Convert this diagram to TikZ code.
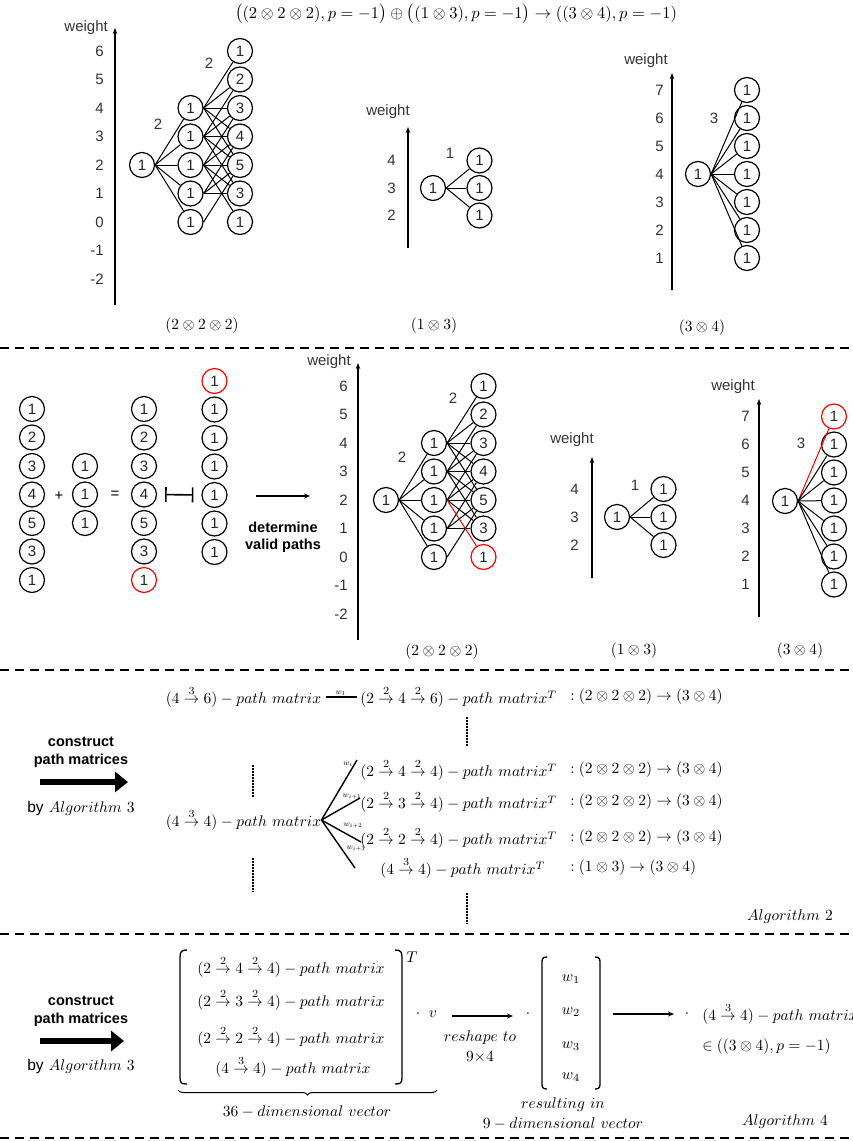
\documentclass[tikz,border=0pt]{standalone}
\usepackage{amsmath}
\usepackage{fontspec}
\newfontfamily\lsans{Liberation Sans}
\usetikzlibrary{arrows.meta,decorations.pathreplacing}
\newcommand\nfont{\lsans\fontsize{15}{18}\selectfont}
\newcommand\bfont{\lsans\bfseries\fontsize{14.5}{18}\selectfont}
\newcommand\parr[1]{\mathrel{\overset{#1}{\rightarrow}}}
\newcommand\pmx{-path\ matrix}
\tikzset{
 nd/.style={circle,draw,line width=1.2pt,minimum size=25pt,inner sep=0pt,font=\nfont,text=black!85,fill=white},
 rnd/.style={nd,draw=red},
 ed/.style={line width=1pt},
 red ed/.style={ed,draw=red},
 axisline/.style={line width=1.3pt,-{Stealth[length=6pt,width=4.5pt]}},
 ticklab/.style={anchor=east,font=\nfont,text=black!80,inner sep=0pt},
 wlab/.style={font=\nfont,text=black!80,inner sep=0pt},
 mt/.style={inner sep=0pt,scale=1.55},
 wsm/.style={inner sep=0pt,font=\footnotesize},
 sep/.style={line width=1.5pt,dash pattern=on 9pt off 6pt},
 vdotline/.style={line width=2pt,dash pattern=on 1.5pt off 1.5pt},
 bigarrow/.style={line width=6pt,-{Triangle[length=13pt,width=20pt]}},
 thinarrow/.style={line width=1.2pt,-{Stealth[length=6pt,width=5pt]}},
 fan/.style={line width=1.4pt},
 btxt/.style={font=\bfont,inner sep=0pt},
 bkt/.style={line width=1.3pt}
}
\begin{document}
\begin{tikzpicture}[x=1pt,y=-1pt]
\useasboundingbox (0,0) rectangle (852,1141);

% ---------- title
\node[inner sep=0pt,scale=1.65] (title) at (456,14)
 {$\big((2\otimes2\otimes2),p=-1\big)\oplus\big((1\otimes3),p=-1\big)\rightarrow((3\otimes4),p=-1)$};

% ---------- separators
\draw[sep] (0,348) -- (852,348);
\draw[sep] (0,670) -- (852,670);
\draw[sep] (0,934) -- (852,934);
\draw[sep] (0,1138) -- (852,1138);

% ========== SECTION 1
% graph A
\draw[axisline] (115,305) -- (115,28);
\node[wlab,anchor=east] (Aw) at (108,28) {weight};
\foreach \w in {6,5,...,-2} \node[ticklab] at (104,{165-28.5*(\w-2)}) {\w};
\node[nd] (A0) at (142,165) {1};
\foreach \w in {4,...,0} \node[nd] (Am\w) at (190.5,{165-28.5*(\w-2)}) {1};
\foreach \w/\l in {6/1,5/2,4/3,3/4,2/5,1/3,0/1} \node[nd] (Ar\w) at (240,{165-28.5*(\w-2)}) {\l};
\foreach \w in {4,...,0} \draw[ed] (A0.east) -- (Am\w);
\foreach \m/\r in {4/6,4/5,4/4,4/3,4/2,3/5,3/4,3/3,3/2,3/1,2/4,2/3,2/2,2/1,2/0,1/3,1/2,1/1,0/2}
  \draw[ed] (Am\m.east) -- (Ar\r);
\node[wlab] (Al1) at (209,63) {2};
\node[wlab] (Al2) at (158,124) {2};
\node[mt] (Acap) at (202,326) {$(2\otimes2\otimes2)$};

% graph B
\draw[axisline] (408,248) -- (408,127);
\node[wlab] (Bw) at (388,112) {weight};
\foreach \w in {4,3,2} \node[ticklab] at (396,{188-27.5*(\w-3)}) {\w};
\node[nd] (B0) at (433,188) {1};
\foreach \w in {4,3,2} \node[nd] (Br\w) at (479.5,{188-27.5*(\w-3)}) {1};
\foreach \w in {4,3,2} \draw[ed] (B0.east) -- (Br\w);
\node[wlab] (Bl) at (450,153) {1};
\node[mt] (Bcap) at (434,326) {$(1\otimes3)$};

% graph C
\draw[axisline] (672,290) -- (672,73);
\node[wlab] (Cw) at (646,61) {weight};
\foreach \w in {7,...,1} \node[ticklab] at (664,{174-28*(\w-4)}) {\w};
\node[nd] (C0) at (698,174) {1};
\foreach \w in {7,...,1} \node[nd] (Cr\w) at (747,{174-28*(\w-4)}) {1};
\foreach \w in {7,...,1} \draw[ed] (C0.east) -- (Cr\w);
\node[wlab] (Cl) at (714,118) {3};
\node[mt] (Ccap) at (702,328) {$(3\otimes4)$};

% ========== SECTION 2
% columns
\foreach \i/\l in {0/1,1/2,2/3,3/4,4/5,5/3,6/1} \node[nd] (La\i) at (32,{409+28.5*\i}) {\l};
\foreach \i in {2,3,4} \node[nd] (Lb\i) at (85,{409+28.5*\i}) {1};
\foreach \i/\l in {0/1,1/2,2/3,3/4,4/5,5/3} \node[nd] (Lc\i) at (144,{409+28.5*\i}) {\l};
\node[rnd] (Lc6) at (144,580) {1};
\node[rnd] (Ld0) at (214.5,381) {1};
\foreach \i in {1,...,6} \node[nd] (Ld\i) at (214.5,{381+28.5*\i}) {1};
\node[font=\nfont] (plus) at (59,496) {+};
\node[font=\nfont] (eq) at (115,495) {=};
\draw[line width=1.6pt,{Bar[width=15pt]}-{Bar[width=15pt]},shorten <=8pt,shorten >=8pt] (Lc3.east) -- (Ld4.west);
\coordinate (dv1) at (256,496);
\coordinate (dv2) at (310,496);
\draw[thinarrow] (dv1) -- (dv2);
\node[btxt] (det1) at (283,527) {determine};
\node[btxt] (det2) at (283,546) {valid paths};

% graph D
\draw[axisline] (358,640) -- (358,363);
\node[wlab] (Dw) at (329,362) {weight};
\foreach \w in {6,5,...,-2} \node[ticklab] at (348,{500-28.5*(\w-2)}) {\w};
\node[nd] (D0) at (386,500) {1};
\foreach \w in {4,...,0} \node[nd] (Dm\w) at (434,{500-28.5*(\w-2)}) {1};
\foreach \w/\l in {6/1,5/2,4/3,3/4,2/5,1/3} \node[nd] (Dr\w) at (483.5,{500-28.5*(\w-2)}) {\l};
\node[rnd] (Dr0) at (483.5,557) {1};
\foreach \w in {4,...,0} \draw[ed] (D0.east) -- (Dm\w);
\foreach \m/\r in {4/6,4/5,4/4,4/3,4/2,3/5,3/4,3/3,3/2,3/1,2/4,2/3,2/2,2/1,1/3,1/2,1/1,0/2}
  \draw[ed] (Dm\m.east) -- (Dr\r);
\draw[red ed] (Dm2.east) -- (Dr0);
\node[wlab] (Dl1) at (453,398) {2};
\node[wlab] (Dl2) at (402,457) {2};
\node[mt] (Dcap) at (442,652) {$(2\otimes2\otimes2)$};

% graph E
\draw[axisline] (592,578) -- (592,457);
\node[wlab] (Ew) at (572,440) {weight};
\foreach \w in {4,3,2} \node[ticklab] at (579,{517-28*(\w-3)}) {\w};
\node[nd] (E0) at (617,517) {1};
\foreach \w in {4,3,2} \node[nd] (Er\w) at (663.5,{517-28*(\w-3)}) {1};
\foreach \w in {4,3,2} \draw[ed] (E0.east) -- (Er\w);
\node[wlab] (El) at (635,485) {1};
\node[mt] (Ecap) at (634,651) {$(1\otimes3)$};

% graph F
\draw[axisline] (759,617) -- (759,399);
\node[wlab] (Fw) at (733,387) {weight};
\foreach \w in {7,...,1} \node[ticklab] at (750,{500.5-28*(\w-4)}) {\w};
\node[nd] (F0) at (785,501) {1};
\node[rnd] (Fr7) at (834,416.5) {1};
\foreach \w in {6,...,1} \node[nd] (Fr\w) at (834,{500.5-28*(\w-4)}) {1};
\draw[red ed] (F0.east) -- (Fr7);
\foreach \w in {6,...,1} \draw[ed] (F0.east) -- (Fr\w);
\node[wlab] (Fl) at (801,443) {3};
\node[mt] (Fcap) at (800,651) {$(3\otimes4)$};

% ========== SECTION 3
\node[btxt] (cs1) at (81,742) {construct};
\node[btxt] (cs2) at (81,761) {path matrices};
\coordinate (ba1) at (40,782);
\coordinate (ba2) at (128,782);
\draw[bigarrow] (ba1) -- (ba2);
\node[mt] (by1) at (81,808) {{\lsans by} $Algorithm\ 3$};

\node[mt] (p1) at (243.5,697) {$(4\parr{3}6)\pmx$};
\node[mt,anchor=west] (q1) at (360,697) {$(2\parr{2}4\parr{2}6)\pmx^T$};
\node[mt,anchor=west] (c1) at (570,697) {$:(2\otimes2\otimes2)\rightarrow(3\otimes4)$};
\draw[line width=1.2pt,shorten <=5pt,shorten >=3pt] (p1.east) -- (q1.west)
   node[midway,above=1pt,wsm] {$w_1$};

\node[mt] (p2) at (243.5,820) {$(4\parr{3}4)\pmx$};
\node[mt,anchor=west] (q2) at (360,770) {$(2\parr{2}4\parr{2}4)\pmx^T$};
\node[mt,anchor=west] (c2) at (570,770) {$:(2\otimes2\otimes2)\rightarrow(3\otimes4)$};
\node[mt,anchor=west] (q3) at (360,802) {$(2\parr{2}3\parr{2}4)\pmx^T$};
\node[mt,anchor=west] (c3) at (570,802) {$:(2\otimes2\otimes2)\rightarrow(3\otimes4)$};
\node[mt,anchor=west] (q4) at (360,838) {$(2\parr{2}2\parr{2}4)\pmx^T$};
\node[mt,anchor=west] (c4) at (570,838) {$:(2\otimes2\otimes2)\rightarrow(3\otimes4)$};
\node[mt,anchor=west] (q5) at (380,868) {$(4\parr{3}4)\pmx^T$};
\node[mt,anchor=west] (c5) at (570,868) {$:(1\otimes3)\rightarrow(3\otimes4)$};

\coordinate (f1) at (357,760);
\coordinate (f2) at (360,798);
\coordinate (f3) at (361,842);
\coordinate (f4) at (355,868);
\foreach \f in {f1,f2,f3,f4} \draw[fan] (p2.east) -- (\f);
\node[wsm] (wi0) at (348,764) {$w_i$};
\node[wsm] (wi1) at (352,797) {$w_{i+1}$};
\node[wsm] (wi2) at (353,826) {$w_{i+2}$};
\node[wsm] (wi3) at (356,849) {$w_{i+3}$};

\draw[vdotline] (467,717) -- (467,747);
\draw[vdotline] (253,765) -- (253,798);
\draw[vdotline] (253,858) -- (253,892);
\draw[vdotline] (467,893) -- (467,924);
\node[mt] (alg2) at (790,917) {$Algorithm\ 2$};

% ========== SECTION 4
\node[btxt] (cs3) at (81,1001) {construct};
\node[btxt] (cs4) at (81,1020) {path matrices};
\coordinate (bb1) at (40,1041);
\coordinate (bb2) at (124,1041);
\draw[bigarrow] (bb1) -- (bb2);
\node[mt] (by2) at (81,1066) {{\lsans by} $Algorithm\ 3$};

% matrix 1
\draw[bkt] (187,950) .. controls (181,950) and (180,952) .. (180,958) -- (180,1077) .. controls (180,1083) and (181,1084) .. (187,1084);
\draw[bkt] (395,950) .. controls (401,950) and (402,952) .. (402,958) -- (402,1077) .. controls (402,1083) and (401,1084) .. (395,1084);
\node[mt] (m1) at (291,967) {$(2\parr{2}4\parr{2}4)\pmx$};
\node[mt] (m2) at (291,1000) {$(2\parr{2}3\parr{2}4)\pmx$};
\node[mt] (m3) at (291,1037) {$(2\parr{2}2\parr{2}4)\pmx$};
\node[mt] (m4) at (293,1067) {$(4\parr{3}4)\pmx$};
\node[mt] (T) at (412,957) {$T$};
\draw[line width=1pt,decorate,decoration={brace,mirror,amplitude=5pt}] (178,1090) -- (437,1090);
\node[mt] (dim36) at (307,1112) {$36-dimensional\ vector$};
\node[mt] (dot1) at (418,1014) {$\cdot$};
\node[mt] (vv) at (433,1014) {$v$};
\coordinate (ra1) at (452,1016);
\coordinate (ra2) at (513,1016);
\draw[thinarrow] (ra1) -- (ra2);
\node[mt] (rs1) at (480,1038) {$reshape\ to$};
\node[mt] (rs2) at (480,1057) {$9{\times}4$};
\node[mt] (dot2) at (528,1014) {$\cdot$};

% matrix 2
\draw[bkt] (547,957) .. controls (542,957) and (542,959) .. (542,964) -- (542,1082) .. controls (542,1087) and (542,1089) .. (547,1089);
\draw[bkt] (595,957) .. controls (600,957) and (600,959) .. (600,964) -- (600,1082) .. controls (600,1087) and (600,1089) .. (595,1089);
\node[mt] (w1) at (571,979) {$w_1$};
\node[mt] (w2) at (571,1012) {$w_2$};
\node[mt] (w3) at (571,1046) {$w_3$};
\node[mt] (w4) at (571,1077) {$w_4$};
\node[mt] (res1) at (563,1105) {$resulting\ in$};
\node[mt] (res2) at (563,1124) {$9-dimensional\ vector$};
\coordinate (rb1) at (613,1014);
\coordinate (rb2) at (674,1014);
\draw[thinarrow] (rb1) -- (rb2);
\node[mt] (dot3) at (687,1014) {$\cdot$};
\node[mt,anchor=west] (res) at (702,1014) {$(4\parr{3}4)\pmx$};
\node[mt,anchor=west] (inn) at (702,1047) {$\in((3\otimes4),p=-1)$};
\node[mt] (alg4) at (785,1122) {$Algorithm\ 4$};
\end{tikzpicture}
\end{document}
